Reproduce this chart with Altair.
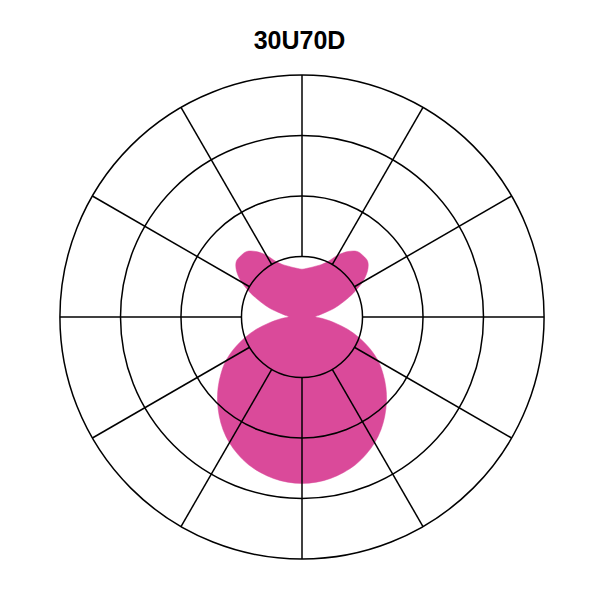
import math
import altair as alt
import pandas as pd

TITLE = "30U70D"
PINK = "#DA4A9A"

# Polar grid (intensity units); rings and spoke directions
RINGS = [100, 200, 300, 400]
SPOKE_ANGLES = [0, 30, 60, 90, 120, 150, 180, 210, 240, 270, 300, 330]

# Intensity by angle from nadir (0 = straight down, 180 = straight up), 5 deg steps
ANGLES = [0, 5, 10, 15, 20, 25, 30, 35, 40, 45, 50, 55, 60, 65, 70, 75, 80, 85, 90,
          95, 100, 105, 110, 115, 120, 125, 130, 135, 140, 145, 150, 155, 160, 165, 170, 175, 180]
INTENSITY = [275, 274, 271, 266, 259.5, 250.5, 240, 227.5, 213, 197.5, 181, 163.5, 145.5, 124, 101, 78, 54.5, 36.5, 23,
             26.5, 36.5, 54.5, 72.5, 94, 115.5, 132, 142, 143, 141.5, 132, 118, 101, 92, 87, 83, 80.5, 79]

# symmetric distribution: other half mirrors the measured half
full_theta = ANGLES + [360 - a for a in reversed(ANGLES[1:-1])]
full_r = INTENSITY + list(reversed(INTENSITY[1:-1]))
curve = pd.DataFrame({"idx": range(len(full_theta)), "theta": full_theta, "r": full_r})

rings = pd.DataFrame({"ring": RINGS})
spokes = pd.DataFrame({"a": SPOKE_ANGLES, "r1": RINGS[0], "r2": RINGS[-1]})
titledf = pd.DataFrame({"t": [TITLE]})

OUTER_PX = 242
PX = OUTER_PX / RINGS[-1]      # pixels per unit
W = H = 560
half = (W / 2) / PX
xs = alt.Scale(domain=[-half, half], nice=False, zero=False)
ys = alt.Scale(domain=[-half, half], nice=False, zero=False)

shape = alt.Chart(curve).transform_calculate(
    px="datum.r * sin(datum.theta * PI / 180)",
    py="-datum.r * cos(datum.theta * PI / 180)",
).mark_line(fill=PINK, stroke=PINK, strokeWidth=0.5, interpolate="cardinal-closed").encode(
    x=alt.X("px:Q", scale=xs, axis=None),
    y=alt.Y("py:Q", scale=ys, axis=None),
    order=alt.Order("idx:Q"),
)

ring_layer = alt.Chart(rings).mark_arc(
    filled=False, stroke="black", strokeWidth=1.5, fillOpacity=0
).encode(
    radius=alt.Radius("ring:Q", stack=None,
                      scale=alt.Scale(type="linear", domain=[0, RINGS[-1]], range=[0, OUTER_PX])),
)

spoke_layer = alt.Chart(spokes).transform_calculate(
    x1="datum.r1 * sin(datum.a * PI / 180)",
    y1="datum.r1 * cos(datum.a * PI / 180)",
    x2="datum.r2 * sin(datum.a * PI / 180)",
    y2="datum.r2 * cos(datum.a * PI / 180)",
).mark_rule(color="black", strokeWidth=1.5).encode(
    x=alt.X("x1:Q", scale=xs, axis=None),
    y=alt.Y("y1:Q", scale=ys, axis=None),
    x2="x2:Q",
    y2="y2:Q",
)

title_layer = alt.Chart(titledf).mark_text(
    font="Liberation Sans", fontSize=25, fontWeight="bold", align="center", baseline="alphabetic", color="black"
).encode(text="t:N", x=alt.value(277.5), y=alt.value(12))

chart = alt.layer(shape, ring_layer, spoke_layer, title_layer).properties(
    width=W, height=H, autosize="none",
    padding={"left": 14, "top": 29, "right": 0, "bottom": 0},
    background="white",
).configure_view(stroke=None)

chart.save("out.html", embed_options={"renderer": "svg", "actions": False})
